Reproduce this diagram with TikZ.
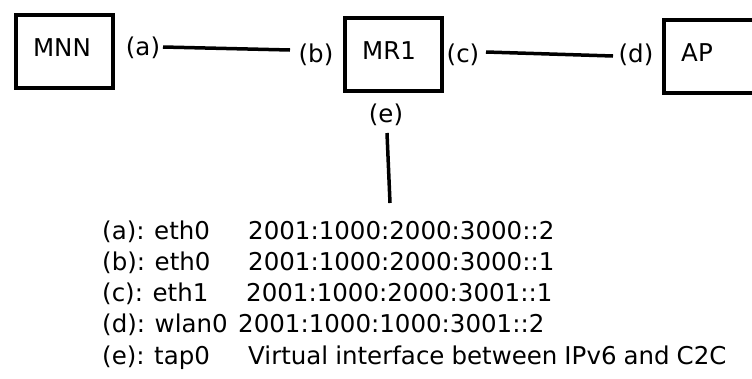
\documentclass[tikz,border=0pt]{standalone}
\usepackage{fontspec}
\setmainfont[WordSpace=0.9]{DejaVu Sans}
\begin{document}
\begin{tikzpicture}[x=1pt,y=-1pt,
  box/.style={draw,line width=4pt,minimum width=97pt,minimum height=73pt,inner sep=0pt,anchor=north west},
  lbl/.style={font=\fontsize{24.5}{28}\selectfont,inner sep=0pt},
  row/.style={font=\fontsize{24.5}{28}\selectfont,inner sep=0pt,anchor=base west},
  wire/.style={line width=3.5pt}]
\useasboundingbox (0,0) rectangle (752,378);
\begin{scope}
\clip (0,0) rectangle (752,378);
\node[box] (mnn) at (14,13) {};
\node[box] (mr1) at (343,16) {};
\node[box] (ap) at (662,18) {};
\end{scope}
\node[lbl] (tmnn) at (62,48) {MNN};
\node[lbl] (tmr1) at (389,51) {MR1};
\node[lbl] (tap) at (697,53) {AP};
\node[lbl] (la) at (143,48) {(a)};
\node[lbl] (lb) at (316,55) {(b)};
\node[lbl] (lc) at (463,55) {(c)};
\node[lbl] (ld) at (636,55) {(d)};
\node[lbl] (le) at (386,115) {(e)};
\coordinate (a1) at (163,47);
\coordinate (b1) at (290,50);
\coordinate (c1) at (486,52);
\coordinate (d1) at (613,56);
\coordinate (e1) at (387,133);
\coordinate (e2) at (390,203);
\draw[wire] (a1) -- (b1);
\draw[wire] (c1) -- (d1);
\draw[wire] (e1) -- (e2);
\node[row] (r1) at (102,239) {(a): eth0};
\node[row] (r2) at (102,270) {(b): eth0};
\node[row] (r3) at (102,301) {(c): eth1};
\node[row] (r4) at (102,332) {(d): wlan0};
\node[row] (r5) at (102,364) {(e): tap0};
\node[row] (s1) at (248,239) {2001:1000:2000:3000::2};
\node[row] (s2) at (248,270) {2001:1000:2000:3000::1};
\node[row] (s3) at (246,301) {2001:1000:2000:3001::1};
\node[row] (s4) at (238,332) {2001:1000:1000:3001::2};
\node[row] (s5) at (248,364) {Virtual interface between IPv6 and C2C};
\end{tikzpicture}
\end{document}
